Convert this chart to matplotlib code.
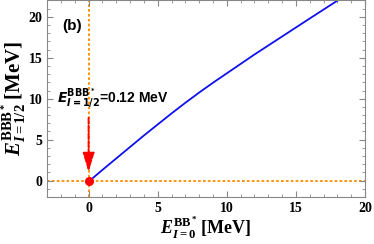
import matplotlib
matplotlib.use("Agg")
import matplotlib.pyplot as plt
from matplotlib.ticker import MultipleLocator

# E_{I=0}^{BB*} vs E_{I=1/2}^{BBB*}  (MeV)
e_i0 = [0.2, 1, 2, 3, 4, 5, 6, 7, 8, 9, 10, 12, 14, 16, 18.2, 20]
e_i12 = [0.15, 1.3, 2.7, 4.1, 5.5, 6.85, 8.2, 9.5, 10.75, 11.95, 13.1, 15.4, 17.6, 19.8, 22.2, 24.1]
point_x, point_y = [0], [0]
xticks = [0, 5, 10, 15, 20]
yticks = [0, 5, 10, 15, 20]

plt.rcParams['mathtext.fontset'] = 'custom'
plt.rcParams['mathtext.rm'] = 'Liberation Serif:bold'
plt.rcParams['mathtext.bf'] = 'Liberation Serif:bold'
plt.rcParams['mathtext.it'] = 'Liberation Serif:bold:italic'

fig = plt.figure(figsize=(3.74, 2.44), dpi=100)
ax = fig.add_axes([0.126, 0.193, 0.85, 0.805])

orange = '#ff8c00'
ax.axhline(0, color=orange, ls=(0, (1.5, 1.2)), lw=1.3, zorder=1)
ax.axvline(0, color=orange, ls=(0, (1.5, 1.2)), lw=1.3, zorder=1)
ax.plot(e_i0, e_i12, color='#1010ee', lw=1.3, zorder=2)
ax.annotate('', xy=(0, 0.7), xytext=(0, 8.0),
            arrowprops=dict(arrowstyle='-|>,head_length=1.15,head_width=0.35',
                            color='red', lw=1.4, ls=(0, (3, 1))), zorder=3)
ax.plot(point_x, point_y, 'o', color='red', ms=5.5, zorder=4)

ax.text(-2.3, 10.0, r'$\boldsymbol{E}^{\mathbf{BBB^*}}_{\boldsymbol{I}\mathbf{=1/2}}$=0.12 MeV',
        fontsize=10, fontweight='bold', family='Liberation Sans',
        math_fontfamily='dejavusans', va='center')
ax.text(-1.9, 18.4, '(b)', fontsize=11, fontweight='bold', family='Liberation Sans')

ax.set_xlim(-3, 20)
ax.set_ylim(-2, 22)
ax.set_xticks(xticks)
ax.set_yticks(yticks)
ax.xaxis.set_minor_locator(MultipleLocator(1))
ax.yaxis.set_minor_locator(MultipleLocator(1))
ax.tick_params(which='both', direction='in', top=True, right=True, color='#888888')
ax.tick_params(which='major', length=4, labelsize=10)
ax.tick_params(which='minor', length=2)
for lab in ax.get_xticklabels() + ax.get_yticklabels():
    lab.set_fontfamily('Liberation Serif')
    lab.set_fontweight('bold')
for s in ax.spines.values():
    s.set_color('#888888')

ax.set_xlabel(r'$E^{\mathrm{BB^*}}_{I=0}\,[\mathrm{MeV}]$', fontsize=13, labelpad=0)
ax.set_ylabel(r'$E^{\mathrm{BBB^*}}_{I=1/2}\,[\mathrm{MeV}]$', fontsize=15, labelpad=0)

fig.savefig('out.png', dpi=100)
